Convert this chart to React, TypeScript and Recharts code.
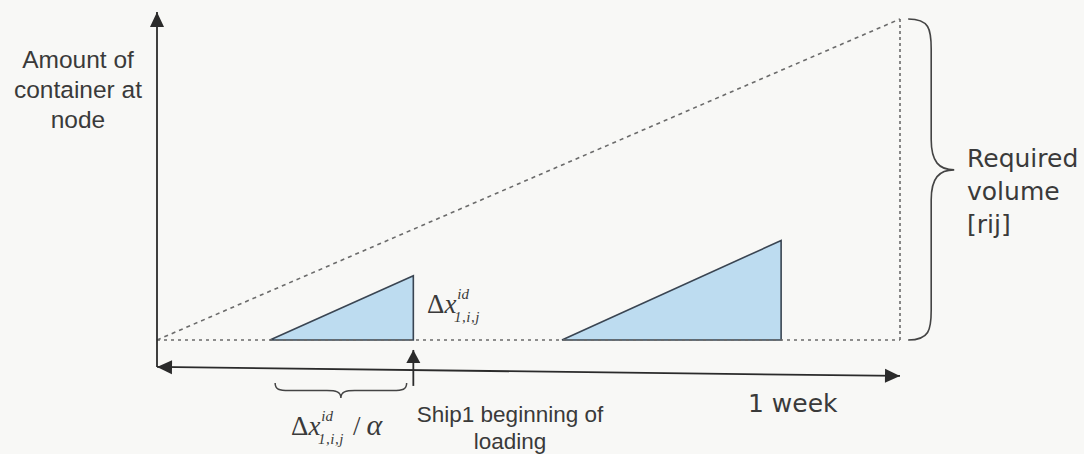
import React from 'react';
import {
  ComposedChart,
  Line,
  Area,
  XAxis,
  YAxis,
  ReferenceLine,
  ReferenceArea,
  Customized,
} from 'recharts';

// time (0 = start, 100 = 1 week) vs amount of containers (100 = required volume)
const requiredLine = [
  { x: 0, y: 0 },
  { x: 100, y: 100 },
];
const baseLine = [
  { x: 0, y: 0 },
  { x: 100, y: 0 },
];
const weekEnd = [
  { x: 100, y: 0 },
  { x: 100, y: 100 },
];
const ship1 = [
  { x: 15.2, y: 0 },
  { x: 34.5, y: 20 },
  { x: 34.5, y: 0 },
  { x: 15.2, y: 0 },
];
const ship2 = [
  { x: 54.5, y: 0 },
  { x: 84, y: 31 },
  { x: 84, y: 0 },
  { x: 54.5, y: 0 },
];
const yAxisLabel = ['Amount of', 'container at', 'node'];
const volumeLabel = ['Required', 'volume', '[rij]'];
const shipLabel = ['Ship1 beginning of', 'loading'];

const INK = '#2b2b2b';
const TEXT = '#3a3a3a';
const DOTS = '#6b6b6b';

function head(tx: number, ty: number, fx: number, fy: number, len = 15, half = 7) {
  const d = Math.hypot(tx - fx, ty - fy) || 1;
  const ux = (tx - fx) / d;
  const uy = (ty - fy) / d;
  const bx = tx - ux * len;
  const by = ty - uy * len;
  return `${tx},${ty} ${bx - uy * half},${by + ux * half} ${bx + uy * half},${by - ux * half}`;
}

const arrow = (both: boolean) => (p: any) => {
  const { x1, y1, x2, y2 } = p;
  return (
    <g>
      <line x1={x1} y1={y1} x2={x2} y2={y2} stroke={INK} strokeWidth={1.8} />
      <polygon points={head(x2, y2, x1, y1)} fill={INK} />
      {both && <polygon points={head(x1, y1, x2, y2)} fill={INK} />}
    </g>
  );
};

const upArrow = (p: any) => {
  const { x1, y1, x2, y2 } = p;
  return (
    <g>
      <line x1={x1} y1={y1} x2={x2} y2={y2} stroke={INK} strokeWidth={1.8} />
      <polygon points={head(x2, y2, x1, y1, 13, 7)} fill={INK} />
    </g>
  );
};

// curly brace pointing right
const rightBrace = (p: any) => {
  const { x, y, width: w, height: h } = p;
  const mx = x + w * 0.5;
  const tipY = y + h * 0.47;
  const r = 30;
  const d = `M${x},${y} C${mx - 2},${y} ${mx},${y + 10} ${mx},${y + r}
    L${mx},${tipY - r} C${mx},${tipY - 8} ${mx + 8},${tipY} ${x + w},${tipY}
    C${mx + 8},${tipY} ${mx},${tipY + 8} ${mx},${tipY + r}
    L${mx},${y + h - r} C${mx},${y + h - 10} ${mx - 2},${y + h} ${x},${y + h}`;
  return <path d={d} fill="none" stroke="#444" strokeWidth={1.6} />;
};

// curly brace pointing down
const downBrace = (p: any) => {
  const { x, y, width: w, height: h } = p;
  const my = y + h * 0.5;
  const tipX = x + w * 0.5;
  const r = 14;
  const d = `M${x},${y} C${x},${my - 1} ${x + 4},${my} ${x + r},${my}
    L${tipX - r},${my} C${tipX - 5},${my} ${tipX},${my + 1} ${tipX},${y + h}
    C${tipX},${my + 1} ${tipX + 5},${my} ${tipX + r},${my}
    L${x + w - r},${my} C${x + w - 4},${my} ${x + w},${my - 1} ${x + w},${y}`;
  return <path d={d} fill="none" stroke="#444" strokeWidth={1.5} />;
};

// Δx^{id}_{1,i,j} (optionally followed by / α) as a single text
function DeltaX({ x, y, tail }: { x: number; y: number; tail?: boolean }) {
  const serif = '"Liberation Serif", "DejaVu Serif", serif';
  return (
    <text x={x} y={y} fill={TEXT} fontFamily={serif} fontSize={27}>
      Δ<tspan fontStyle="italic">x</tspan>
      <tspan dx={1} dy={-14} fontSize={15} fontStyle="italic">id</tspan>
      <tspan dx={-15} dy={23} fontSize={15} fontStyle="italic" letterSpacing={0.5}>
        1,i,j
      </tspan>
      {tail && (
        <>
          <tspan x={x + 62} dy={-9}>/</tspan>
          <tspan dx={6} fontStyle="italic" fontSize={30}>α</tspan>
        </>
      )}
    </text>
  );
}

function Annotations() {
  const sans = '"Liberation Sans", Arial, sans-serif';
  const verdana = '"DejaVu Sans", Verdana, sans-serif';
  return (
    <g>
      <text fontFamily={sans} fontSize={24.5} fill={TEXT} textAnchor="middle">
        {yAxisLabel.map((t, i) => (
          <tspan key={t} x={78} y={68 + i * 30}>
            {t}
          </tspan>
        ))}
      </text>
      <text fontFamily={verdana} fontSize={25} fill={TEXT}>
        {volumeLabel.map((t, i) => (
          <tspan key={t} x={967} y={167 + i * 33}>
            {t}
          </tspan>
        ))}
      </text>
      <text fontFamily={sans} fontSize={22.5} fill={TEXT} textAnchor="middle">
        {shipLabel.map((t, i) => (
          <tspan key={t} x={510} y={422 + i * 27}>
            {t}
          </tspan>
        ))}
      </text>
      <text x={748} y={412} fontFamily={verdana} fontSize={25} fill={TEXT}>
        1 week
      </text>
      <DeltaX x={427} y={313} />
      <DeltaX x={291} y={435} tail />
    </g>
  );
}

export default function App() {
  return (
    <div style={{ position: 'absolute', left: 0, top: 0, width: 1084, height: 454, background: '#f8f8f6' }}>
      <ComposedChart width={1084} height={454} margin={{ top: 19, right: 184, bottom: 114, left: 157 }}>
        <XAxis type="number" dataKey="x" domain={[0, 100]} hide />
        <YAxis type="number" dataKey="y" domain={[0, 100]} hide />
        <Line data={baseLine} dataKey="y" stroke={DOTS} strokeWidth={1.6} strokeDasharray="3 4" dot={false} isAnimationActive={false} />
        <Line data={requiredLine} dataKey="y" stroke={DOTS} strokeWidth={1.6} strokeDasharray="4 4" dot={false} isAnimationActive={false} />
        <Line data={weekEnd} dataKey="y" stroke={DOTS} strokeWidth={1.6} strokeDasharray="3 3" dot={false} isAnimationActive={false} />
        <Area data={ship1} dataKey="y" type="linear" fill="#bddcf0" fillOpacity={1} stroke="#3a4552" strokeWidth={1.6} dot={false} isAnimationActive={false} />
        <Area data={ship2} dataKey="y" type="linear" fill="#bddcf0" fillOpacity={1} stroke="#3a4552" strokeWidth={1.6} dot={false} isAnimationActive={false} />
        <ReferenceLine segment={[{ x: 0, y: -8.4 }, { x: 0, y: 102.2 }]} ifOverflow="visible" shape={arrow(false)} />
        <ReferenceLine segment={[{ x: 0, y: -8.4 }, { x: 100, y: -11.2 }]} ifOverflow="visible" shape={arrow(true)} />
        <ReferenceLine segment={[{ x: 34.5, y: -14.3 }, { x: 34.5, y: -3.1 }]} ifOverflow="visible" shape={upArrow} />
        <ReferenceArea x1={101.1} x2={107.3} y1={0} y2={100} ifOverflow="visible" shape={rightBrace} />
        <ReferenceArea x1={15.9} x2={33.6} y1={-18.1} y2={-13.4} ifOverflow="visible" shape={downBrace} />
        <Customized component={<Annotations />} />
      </ComposedChart>
    </div>
  );
}
